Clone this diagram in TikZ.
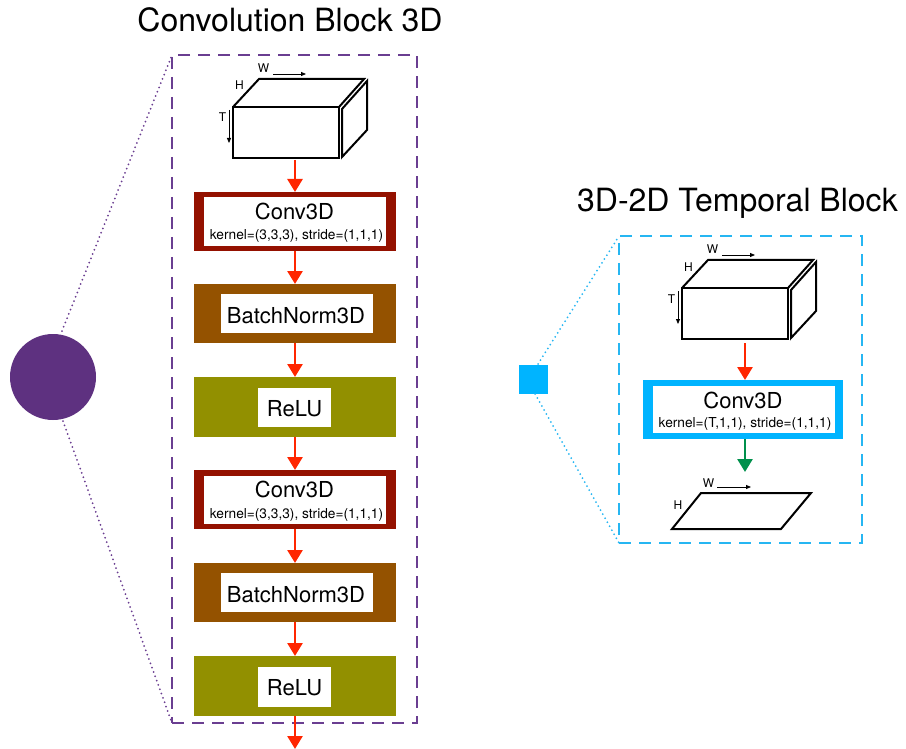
\documentclass[tikz,border=0pt]{standalone}
\usepackage{fontspec}
\setmainfont{TeX Gyre Heros}
\usetikzlibrary{arrows.meta}

\definecolor{convred}{HTML}{941100}
\definecolor{bnbrown}{HTML}{945200}
\definecolor{reluolive}{HTML}{929000}
\definecolor{arrowred}{HTML}{FF2600}
\definecolor{plum}{HTML}{5E3180}
\definecolor{plumline}{HTML}{6A3E91}
\definecolor{sky}{HTML}{00B4FF}
\definecolor{skyline}{HTML}{26B6F2}
\definecolor{clover}{HTML}{00904C}

\tikzset{
  blk/.style={rectangle, inner sep=0pt, outer sep=0pt, minimum width=202pt, minimum height=59pt},
  whitebox/.style={rectangle, fill=white, inner sep=0pt, outer sep=0pt},
  titletxt/.style={font=\fontsize{32}{38}\selectfont, inner sep=0pt, anchor=base},
  boxtxt/.style={font=\fontsize{22}{26}\selectfont, inner sep=0pt, anchor=base},
  kerneltxt/.style={font=\fontsize{13.7}{16}\selectfont, inner sep=0pt, anchor=base},
  dimtxt/.style={font=\fontsize{12}{14}\selectfont, inner sep=0pt, anchor=base},
  flow/.style={draw=arrowred, line width=2.7pt, -{Triangle[width=15pt,length=13pt]}},
  flowgreen/.style={draw=clover, line width=2.7pt, -{Triangle[width=15pt,length=13pt]}},
  dimarrow/.style={line width=0.8pt, -{Triangle[width=4pt,length=5pt]}},
  cubeline/.style={line width=2pt, line join=miter},
  frame/.style={line width=2.2pt, dash pattern=on 12pt off 8pt},
  zoomline/.style={line width=2pt, dash pattern=on 0pt off 4.6pt, line cap=round},
}

% a box with T x H x W labels; #1,#2 shift, #3 name of the front face
\newcommand{\tensorcube}[3]{%
  \begin{scope}[shift={(#1,#2)}]
    \node[draw, cubeline, rectangle, inner sep=0pt, outer sep=0pt,
          minimum width=106pt, minimum height=51pt] (#3) at (286,132.5) {};
    \draw[cubeline] (#3.north west) -- (259,79) -- (364,79) -- (#3.north east);
    \draw[cubeline] (342,109) -- (367,81) -- (367,130) -- (342,157) -- cycle;
    \node[dimtxt] (#3W) at (263.5,73) {W};
    \node[dimtxt] (#3H) at (239.5,90) {H};
    \node[dimtxt] (#3T) at (222.5,122) {T};
    \coordinate (#3wa) at (273,74);
    \coordinate (#3wb) at (306,74);
    \coordinate (#3ta) at (229,110);
    \coordinate (#3tb) at (229,143);
    \draw[dimarrow] (#3wa) -- (#3wb);
    \draw[dimarrow] (#3ta) -- (#3tb);
  \end{scope}}

\begin{document}
\begin{tikzpicture}[x=1pt, y=-1pt]
\useasboundingbox (0,0) rectangle (906,749);

%----------------------------------------------------------- left: 3D block
\node[titletxt] (t1) at (290,32) {Convolution Block 3D};

\node[circle, fill=plum, inner sep=0pt, minimum size=86pt] (dot) at (53,377) {};
\node[draw=plumline, frame, rectangle, inner sep=0pt, outer sep=0pt,
      minimum width=245pt, minimum height=668pt] (f1) at (294.5,389) {};
\coordinate (d1a) at (62,331);
\coordinate (d1b) at (63,421);
\draw[plumline, zoomline] (d1a) -- (f1.north west);
\draw[plumline, zoomline] (d1b) -- (f1.south west);

\tensorcube{0}{0}{cubeA}

% conv 1
\node[blk, fill=convred] (c1) at (295,221.5) {};
\node[whitebox, minimum width=182pt, minimum height=49pt] (c1w) at (c1) {};
\node[boxtxt] (c1t) at (294.5,219) {Conv3D};
\node[kerneltxt] (c1k) at (296.5,240) {kernel=(3,3,3), stride=(1,1,1)};
% batchnorm 1
\node[blk, fill=bnbrown] (b1) at (295,313.5) {};
\node[whitebox, minimum width=152pt, minimum height=39pt] (b1w) at (297,313.5) {};
\node[boxtxt] (b1t) at (296,323) {BatchNorm3D};
% relu 1
\node[blk, fill=reluolive, minimum height=60pt] (r1) at (295,407) {};
\node[whitebox, minimum width=73pt, minimum height=39pt] (r1w) at (294.5,407.5) {};
\node[boxtxt] (r1t) at (294.5,416) {ReLU};
% conv 2
\node[blk, fill=convred] (c2) at (295,499.5) {};
\node[whitebox, minimum width=182pt, minimum height=48pt] (c2w) at (c2) {};
\node[boxtxt] (c2t) at (294.5,497) {Conv3D};
\node[kerneltxt] (c2k) at (296.5,518) {kernel=(3,3,3), stride=(1,1,1)};
% batchnorm 2
\node[blk, fill=bnbrown] (b2) at (295,592.5) {};
\node[whitebox, minimum width=152pt, minimum height=39pt] (b2w) at (297,592.5) {};
\node[boxtxt] (b2t) at (296,602) {BatchNorm3D};
% relu 2
\node[blk, fill=reluolive, minimum height=60pt] (r2) at (295,686) {};
\node[whitebox, minimum width=73pt, minimum height=40pt] (r2w) at (294.5,687) {};
\node[boxtxt] (r2t) at (294.5,695) {ReLU};

\coordinate (out1) at (295,749);
\draw[flow] ([yshift=-2pt]cubeA.south -| c1.north) -- (c1.north);
\draw[flow] (c1.south) -- (b1.north);
\draw[flow] (b1.south) -- (r1.north);
\draw[flow] (r1.south) -- (c2.north);
\draw[flow] (c2.south) -- (b2.north);
\draw[flow] (b2.south) -- (r2.north);
\draw[flow] (r2.south) -- (out1);

%----------------------------------------------------------- right: temporal block
\node[titletxt] (t2) at (737.5,212) {3D-2D Temporal Block};

\node[rectangle, fill=sky, inner sep=0pt, minimum size=29pt] (sq) at (533.5,379) {};
\node[draw=skyline, frame, rectangle, inner sep=0pt, outer sep=0pt,
      minimum width=243pt, minimum height=307pt] (f2) at (740.5,389.5) {};
\coordinate (d2a) at (538,364);
\coordinate (d2b) at (535,394);
\draw[skyline, zoomline] (d2a) -- (f2.north west);
\draw[skyline, zoomline] (d2b) -- (f2.south west);

\tensorcube{449}{181}{cubeB}

\node[rectangle, fill=sky, inner sep=0pt, outer sep=0pt,
      minimum width=200pt, minimum height=59pt] (tc) at (743,409.5) {};
\node[whitebox, minimum width=182pt, minimum height=47pt] (tcw) at (744,409.5) {};
\node[boxtxt] (tct) at (743,408) {Conv3D};
\node[kerneltxt] (tck) at (745,427) {kernel=(T,1,1), stride=(1,1,1)};

% output plane H x W
\coordinate (p1) at (672,529);
\coordinate (p2) at (781,529);
\coordinate (p3) at (811,493);
\coordinate (p4) at (701,493);
\draw[cubeline] (p1) -- (p2) -- (p3) -- (p4) -- cycle;
\node[dimtxt] (pW) at (708.5,487) {W};
\node[dimtxt] (pH) at (678,509) {H};
\coordinate (pwa) at (717,487);
\coordinate (pwb) at (751,487);
\draw[dimarrow] (pwa) -- (pwb);

\coordinate (pin) at (745,472);
\draw[flow] ([yshift=-4pt]cubeB.south -| 745,0) -- (tc.north -| 745,0);
\draw[flowgreen] (tc.south -| 745,0) -- (pin);
\end{tikzpicture}
\end{document}
